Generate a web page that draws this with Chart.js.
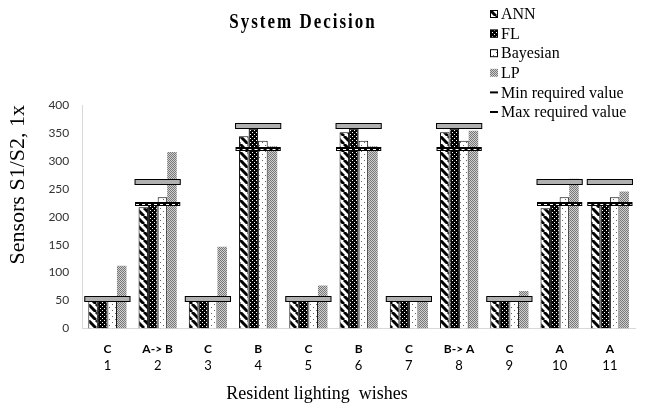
<!DOCTYPE html>
<html>
<head>
<meta charset="utf-8">
<script src="https://cdn.jsdelivr.net/npm/chart.js@4.4.1/dist/chart.umd.min.js"></script>
<style>
  html, body { margin: 0; padding: 0; background: #fff; }
  #wrap { position: relative; width: 646px; height: 405px; }
  #title {
    position: absolute; left: 0; top: 12px; width: 606px; text-align: center;
    font: bold 17px "Liberation Serif", serif; letter-spacing: 2px;
    transform: scaleY(1.2); color: #000;
  }
  #xtitle {
    position: absolute; left: 117px; top: 382px; width: 400px; text-align: center;
    font: 18px/20px "Liberation Serif", serif; white-space: pre;
    transform: scaleY(1.1); color: #000;
  }
</style>
</head>
<body>
<div id="wrap">
  <canvas id="c" width="646" height="405"></canvas>
  <div id="title">System Decision</div>
  <div id="xtitle">Resident lighting  wishes</div>
</div>
<script>
// wishes per test case (bold row) and case numbers (second row)
const wishLetters = ["C", "A-> B", "C", "B", "C", "B", "C", "B-> A", "C", "A", "A"];
const caseNumbers = ["1", "2", "3", "4", "5", "6", "7", "8", "9", "10", "11"];

// sensor readings, lx
const annValues = [50, 217, 50, 344, 50, 351, 50, 351, 50, 215, 222];
const flValues = [50, 222, 50, 358, 50, 358, 50, 358, 50, 222, 222];
const bayesValues = [50, 235, 50, 336, 50, 336, 50, 336, 50, 235, 235];
const lpValues = [112, 316, 146, 326, 77, 326, 50, 354, 67, 268, 245];

// required range
const minRequired = [50, 222, 50, 321, 50, 321, 50, 321, 50, 222, 222];
const maxRequired = [53, 262, 53, 362, 53, 362, 53, 362, 53, 262, 262];

const yTicks = [0, 50, 100, 150, 200, 250, 300, 350, 400];

/* ---------- fill patterns ---------- */
function makePattern(size, draw) {
  const c = document.createElement("canvas");
  c.width = size;
  c.height = size;
  const g = c.getContext("2d");
  draw(g, size);
  return document.getElementById("c").getContext("2d").createPattern(c, "repeat");
}

const annFill = makePattern(8, (g, s) => {
  g.fillStyle = "#fff";
  g.fillRect(0, 0, s, s);
  g.strokeStyle = "#000";
  g.lineWidth = 3;
  [-s, 0, s].forEach((x0) => {
    g.beginPath();
    g.moveTo(x0, 0);
    g.lineTo(x0 + s, s);
    g.stroke();
  });
});

const flFill = makePattern(4, (g, s) => {
  g.fillStyle = "#000";
  g.fillRect(0, 0, s, s);
  g.fillStyle = "#fff";
  g.fillRect(0, 0, 1, 1);
  g.fillRect(2, 2, 1, 1);
});

const bayesFill = makePattern(6, (g, s) => {
  g.fillStyle = "#fff";
  g.fillRect(0, 0, s, s);
  g.fillStyle = "#666";
  g.fillRect(1, 1, 1, 1);
  g.fillRect(4, 4, 1, 1);
});

const lpFill = makePattern(2, (g) => {
  g.fillStyle = "#d0d0d0";
  g.fillRect(0, 0, 2, 2);
  g.fillStyle = "#777";
  g.fillRect(0, 0, 1, 1);
  g.fillRect(1, 1, 1, 1);
});

/* ---------- plugins ---------- */
const requiredLines = {
  id: "requiredLines",
  afterDatasetsDraw(chart) {
    const { ctx, scales } = chart;
    const x = scales.x, y = scales.y;
    const step = x.getPixelForValue(1) - x.getPixelForValue(0);
    const half = step * 0.45;
    ctx.save();
    minRequired.forEach((v, i) => {
      const cx = x.getPixelForValue(i);
      const py = Math.round(y.getPixelForValue(v));
      ctx.fillStyle = "#000";
      ctx.fillRect(cx - half, py - 2, half * 2, 4);
      ctx.strokeStyle = "#fff";
      ctx.lineWidth = 1;
      ctx.setLineDash([3, 3]);
      ctx.beginPath();
      ctx.moveTo(cx - half + 1, py + 0.5);
      ctx.lineTo(cx + half - 1, py + 0.5);
      ctx.stroke();
      ctx.setLineDash([]);
    });
    maxRequired.forEach((v, i) => {
      const cx = x.getPixelForValue(i);
      const py = Math.round(y.getPixelForValue(v));
      ctx.fillStyle = "#b0b0b0";
      ctx.fillRect(cx - half, py - 2.5, half * 2, 5);
      ctx.strokeStyle = "#000";
      ctx.lineWidth = 1;
      ctx.strokeRect(cx - half, py - 2.5, half * 2, 5);
    });
    ctx.restore();
  },
};

const sideLegend = {
  id: "sideLegend",
  afterDraw(chart) {
    const ctx = chart.ctx;
    const left = 490, top = 14, row = 19.6;
    ctx.save();
    ctx.font = '16px "Liberation Serif"';
    ctx.textBaseline = "middle";
    chart.data.datasets.forEach((ds, i) => {
      const cy = top + i * row;
      ctx.fillStyle = ds.backgroundColor;
      ctx.fillRect(left, cy - 4, 8, 8);
      if (ds.borderWidth) {
        ctx.strokeStyle = "#000";
        ctx.lineWidth = 1;
        ctx.strokeRect(left + 0.5, cy - 3.5, 7, 7);
      }
      ctx.fillStyle = "#000";
      ctx.fillText(ds.label, left + 11, cy + 1);
    });
    ["Min required value", "Max required value"].forEach((label, j) => {
      const cy = top + (chart.data.datasets.length + j) * row;
      ctx.fillStyle = "#000";
      ctx.fillRect(left, cy - 1, 8, 2);
      ctx.fillText(label, left + 11, cy + 1);
    });
    ctx.restore();
  },
};

/* ---------- chart ---------- */
const barStyle = {
  borderColor: "#000",
  borderWidth: 1,
  categoryPercentage: 0.76,
  barPercentage: 1,
};

new Chart(document.getElementById("c"), {
  type: "bar",
  data: {
    labels: wishLetters,
    datasets: [
      { label: "ANN", data: annValues, backgroundColor: annFill, ...barStyle },
      { label: "FL", data: flValues, backgroundColor: flFill, ...barStyle },
      { label: "Bayesian", data: bayesValues, backgroundColor: bayesFill, ...barStyle },
      { label: "LP", data: lpValues, backgroundColor: lpFill, ...barStyle, borderWidth: 0 },
    ],
  },
  options: {
    responsive: false,
    animation: false,
    devicePixelRatio: 1,
    layout: { padding: { top: 105, left: 5, right: 11, bottom: 30 } },
    plugins: {
      legend: { display: false },
      tooltip: { enabled: false },
    },
    scales: {
      x: {
        position: "bottom",
        grid: { display: false, drawTicks: false },
        border: { color: "#d9d9d9" },
        ticks: {
          color: "#000",
          padding: 14,
          maxRotation: 0,
          autoSkip: false,
          font: { family: "Lato", size: 12, weight: "bold" },
        },
        afterFit(scale) {
          scale.height = 29;
        },
      },
      x2: {
        type: "category",
        position: "bottom",
        labels: caseNumbers,
        grid: { display: false, drawTicks: false },
        border: { display: false },
        ticks: {
          color: "#000",
          padding: 1,
          maxRotation: 0,
          autoSkip: false,
          font: { family: "Lato", size: 13 },
        },
      },
      y: {
        min: 0,
        max: 400,
        afterBuildTicks(scale) {
          scale.ticks = yTicks.map((v) => ({ value: v }));
        },
        grid: { display: false, drawTicks: false },
        border: { color: "#d9d9d9" },
        ticks: {
          color: "#333",
          padding: 13,
          font: { family: "Lato", size: 12 },
        },
        title: {
          display: true,
          text: "Sensors S1/S2, 1x",
          align: "end",
          color: "#000",
          padding: { top: 0, bottom: 4 },
          font: { family: "Liberation Serif", size: 22 },
        },
      },
    },
  },
  plugins: [requiredLines, sideLegend],
});
</script>
</body>
</html>
